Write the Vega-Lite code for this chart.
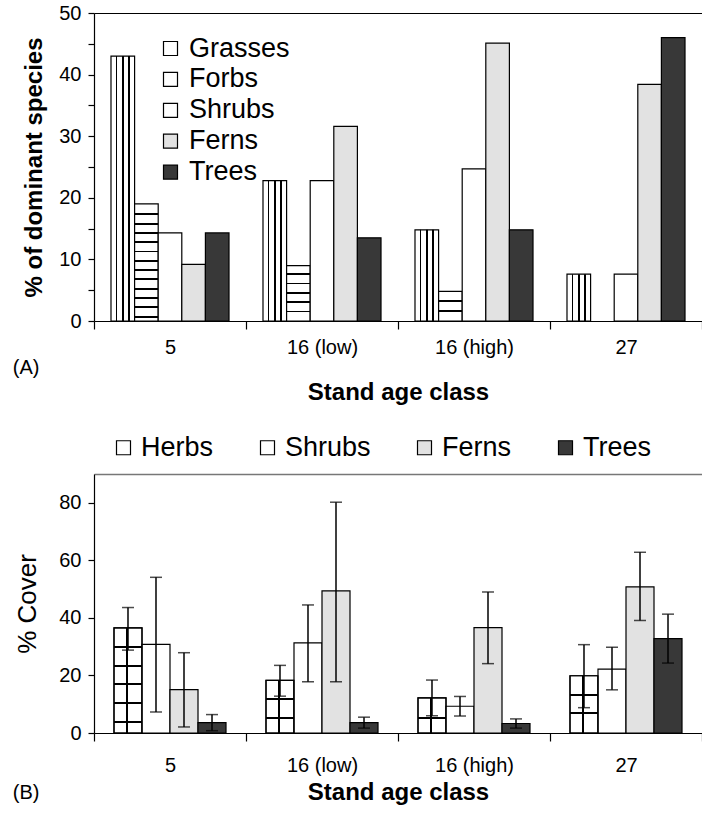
{
  "$schema": "https://vega.github.io/schema/vega-lite/v6.json",
  "padding": {"left": 12, "top": 3, "right": 0, "bottom": 5},
  "spacing": 30,
  "resolve": {"scale": {"fill": "independent", "xOffset": "independent", "x": "independent", "y": "independent"}, "legend": {"fill": "independent"}},
  "config": {
    "font": "Liberation Sans",
    "view": {"stroke": null},
    "axis": {"domainColor": "black", "tickColor": "black", "labelColor": "black", "titleColor": "black", "grid": false, "domainWidth": 1.2, "tickWidth": 1.2}
  },
  "vconcat": [
    {
      "width": 608,
      "height": 308,
      "title": {"text": "(A)", "orient": "bottom", "anchor": "start", "frame": "bounds", "fontSize": 20, "fontWeight": "normal", "dx": -10, "dy": -46, "offset": 0, "color": "black"},
      "data": {"values": [
        {"group": "5", "type": "Grasses", "value": 43.0},
        {"group": "5", "type": "Forbs", "value": 19.0},
        {"group": "5", "type": "Shrubs", "value": 14.3},
        {"group": "5", "type": "Ferns", "value": 9.2},
        {"group": "5", "type": "Trees", "value": 14.3},
        {"group": "16 (low)", "type": "Grasses", "value": 22.8},
        {"group": "16 (low)", "type": "Forbs", "value": 9.0},
        {"group": "16 (low)", "type": "Shrubs", "value": 22.8},
        {"group": "16 (low)", "type": "Ferns", "value": 31.6},
        {"group": "16 (low)", "type": "Trees", "value": 13.5},
        {"group": "16 (high)", "type": "Grasses", "value": 14.8},
        {"group": "16 (high)", "type": "Forbs", "value": 4.8},
        {"group": "16 (high)", "type": "Shrubs", "value": 24.7},
        {"group": "16 (high)", "type": "Ferns", "value": 45.1},
        {"group": "16 (high)", "type": "Trees", "value": 14.8},
        {"group": "27", "type": "Grasses", "value": 7.6},
        {"group": "27", "type": "Shrubs", "value": 7.6},
        {"group": "27", "type": "Ferns", "value": 38.4},
        {"group": "27", "type": "Trees", "value": 46.0}
      ]},
      "layer": [
        {
          "mark": {"type": "bar", "stroke": "black", "strokeWidth": 1.2},
          "encoding": {
            "x": {"field": "group", "type": "nominal", "sort": ["5", "16 (low)", "16 (high)", "27"], "scale": {"paddingInner": 0, "paddingOuter": 0},
              "axis": {"title": "Stand age class", "titleFontSize": 24, "titleFontWeight": "bold", "titlePadding": 23, "labelFontSize": 20, "labelAngle": 0, "labelPadding": 8, "tickBand": "extent", "tickSize": 8}},
            "xOffset": {"field": "type", "type": "nominal", "scale": {"domain": ["Grasses", "Forbs", "Shrubs", "Ferns", "Trees"], "paddingInner": 0, "paddingOuter": 0.72}},
            "y": {"field": "value", "type": "quantitative", "scale": {"domain": [0, 50], "nice": false},
              "axis": {"title": "% of dominant species", "titleFontSize": 24, "titleFontWeight": "bold", "titlePadding": 12, "values": [0, 5, 10, 15, 20, 25, 30, 35, 40, 45, 50], "labelExpr": "datum.value % 10 === 0 ? datum.label : ''", "labelFontSize": 20, "labelPadding": 7, "tickSize": 6}},
            "fill": {
              "field": "type", "type": "nominal",
              "scale": {"domain": ["Grasses", "Forbs", "Shrubs", "Ferns", "Trees"], "range": ["#ffffff", "#fefefe", "white", "#e2e2e2", "#383838"]},
              "legend": {"title": null, "orient": "none", "direction": "vertical", "legendX": 63, "legendY": 22, "symbolType": "square", "symbolSize": 196, "symbolStrokeColor": "black", "symbolStrokeWidth": 1, "labelFontSize": 27, "labelOffset": 5, "rowPadding": 2.9, "labelColor": "black",
                "encode": {"symbols": {"update": {
                  "stroke": {"value": "black"},
                  "strokeWidth": {"value": 1.2},
                  "fill": {"value": {"expr": "datum.value === 'Grasses' ? {gradient: 'linear', x1: 0, y1: 0, x2: 1, y2: 0, stops: [{offset: 0, color: 'white'}, {offset: 0.43, color: 'white'}, {offset: 0.43, color: 'black'}, {offset: 0.57, color: 'black'}, {offset: 0.57, color: 'white'}, {offset: 1, color: 'white'}]} : datum.value === 'Forbs' ? {gradient: 'linear', x1: 0, y1: 0, x2: 0, y2: 1, stops: [{offset: 0, color: 'white'}, {offset: 0.43, color: 'white'}, {offset: 0.43, color: 'black'}, {offset: 0.57, color: 'black'}, {offset: 0.57, color: 'white'}, {offset: 1, color: 'white'}]} : datum.value === 'Ferns' ? '#e2e2e2' : datum.value === 'Trees' ? '#383838' : 'white'"}}}}}},
              "condition": [
                {"test": "datum.type === 'Grasses'", "value": {"gradient": "linear", "x1": 0, "y1": 0, "x2": 1, "y2": 0, "stops": [
                  {"offset": 0, "color": "white"}, {"offset": 0.205, "color": "white"}, {"offset": 0.205, "color": "black"}, {"offset": 0.275, "color": "black"}, {"offset": 0.275, "color": "white"},
                  {"offset": 0.465, "color": "white"}, {"offset": 0.465, "color": "black"}, {"offset": 0.535, "color": "black"}, {"offset": 0.535, "color": "white"},
                  {"offset": 0.725, "color": "white"}, {"offset": 0.725, "color": "black"}, {"offset": 0.795, "color": "black"}, {"offset": 0.795, "color": "white"}, {"offset": 1, "color": "white"}]}},
                {"test": "datum.type === 'Forbs' && datum.group === '5'", "value": {"gradient": "linear", "x1": 0, "y1": 0, "x2": 0, "y2": 1, "stops": [
                  {"offset": 0, "color": "white"},
                  {"offset": 0.080, "color": "white"}, {"offset": 0.080, "color": "black"}, {"offset": 0.096, "color": "black"}, {"offset": 0.096, "color": "white"},
                  {"offset": 0.1595, "color": "white"}, {"offset": 0.1595, "color": "black"}, {"offset": 0.1755, "color": "black"}, {"offset": 0.1755, "color": "white"},
                  {"offset": 0.239, "color": "white"}, {"offset": 0.239, "color": "black"}, {"offset": 0.255, "color": "black"}, {"offset": 0.255, "color": "white"},
                  {"offset": 0.3185, "color": "white"}, {"offset": 0.3185, "color": "black"}, {"offset": 0.3345, "color": "black"}, {"offset": 0.3345, "color": "white"},
                  {"offset": 0.398, "color": "white"}, {"offset": 0.398, "color": "black"}, {"offset": 0.414, "color": "black"}, {"offset": 0.414, "color": "white"},
                  {"offset": 0.4775, "color": "white"}, {"offset": 0.4775, "color": "black"}, {"offset": 0.4935, "color": "black"}, {"offset": 0.4935, "color": "white"},
                  {"offset": 0.557, "color": "white"}, {"offset": 0.557, "color": "black"}, {"offset": 0.573, "color": "black"}, {"offset": 0.573, "color": "white"},
                  {"offset": 0.6364, "color": "white"}, {"offset": 0.6364, "color": "black"}, {"offset": 0.6524, "color": "black"}, {"offset": 0.6524, "color": "white"},
                  {"offset": 0.716, "color": "white"}, {"offset": 0.716, "color": "black"}, {"offset": 0.732, "color": "black"}, {"offset": 0.732, "color": "white"},
                  {"offset": 0.7954, "color": "white"}, {"offset": 0.7954, "color": "black"}, {"offset": 0.8114, "color": "black"}, {"offset": 0.8114, "color": "white"},
                  {"offset": 0.875, "color": "white"}, {"offset": 0.875, "color": "black"}, {"offset": 0.891, "color": "black"}, {"offset": 0.891, "color": "white"},
                  {"offset": 0.9544, "color": "white"}, {"offset": 0.9544, "color": "black"}, {"offset": 0.9704, "color": "black"}, {"offset": 0.9704, "color": "white"},
                  {"offset": 1, "color": "white"}]}},
                {"test": "datum.type === 'Forbs' && datum.group === '16 (low)'", "value": {"gradient": "linear", "x1": 0, "y1": 0, "x2": 0, "y2": 1, "stops": [
                  {"offset": 0, "color": "white"},
                  {"offset": 0.141, "color": "white"}, {"offset": 0.141, "color": "black"}, {"offset": 0.173, "color": "black"}, {"offset": 0.173, "color": "white"},
                  {"offset": 0.309, "color": "white"}, {"offset": 0.309, "color": "black"}, {"offset": 0.341, "color": "black"}, {"offset": 0.341, "color": "white"},
                  {"offset": 0.477, "color": "white"}, {"offset": 0.477, "color": "black"}, {"offset": 0.509, "color": "black"}, {"offset": 0.509, "color": "white"},
                  {"offset": 0.645, "color": "white"}, {"offset": 0.645, "color": "black"}, {"offset": 0.677, "color": "black"}, {"offset": 0.677, "color": "white"},
                  {"offset": 0.813, "color": "white"}, {"offset": 0.813, "color": "black"}, {"offset": 0.845, "color": "black"}, {"offset": 0.845, "color": "white"},
                  {"offset": 1, "color": "white"}]}},
                {"test": "datum.type === 'Forbs' && datum.group === '16 (high)'", "value": {"gradient": "linear", "x1": 0, "y1": 0, "x2": 0, "y2": 1, "stops": [
                  {"offset": 0, "color": "white"},
                  {"offset": 0.287, "color": "white"}, {"offset": 0.287, "color": "black"}, {"offset": 0.349, "color": "black"}, {"offset": 0.349, "color": "white"},
                  {"offset": 0.629, "color": "white"}, {"offset": 0.629, "color": "black"}, {"offset": 0.691, "color": "black"}, {"offset": 0.691, "color": "white"},
                  {"offset": 1, "color": "white"}]}}
              ]
            }
          }
        },
        {
          "mark": {"type": "rule", "opacity": 0},
          "encoding": {
            "x": {"field": "group", "type": "nominal", "sort": ["5", "16 (low)", "16 (high)", "27"],
              "axis": {"orient": "top", "labels": false, "ticks": false, "title": null, "domainColor": "black", "domainWidth": 1.2}}
          }
        }
      ],
      "resolve": {"axis": {"x": "independent"}}
    },
    {
      "width": 608,
      "height": 259,
      "title": {"text": "(B)", "orient": "bottom", "anchor": "start", "frame": "bounds", "fontSize": 20, "fontWeight": "normal", "dx": -2, "dy": -21, "offset": 0, "color": "black"},
      "data": {"values": [
        {"group": "5", "type": "Herbs", "value": 36.5, "lo": 28.8, "hi": 43.6},
        {"group": "5", "type": "Shrubs", "value": 30.8, "lo": 7.3, "hi": 54.1},
        {"group": "5", "type": "Ferns", "value": 15.1, "lo": 2.1, "hi": 27.9},
        {"group": "5", "type": "Trees", "value": 3.6, "lo": 0.8, "hi": 6.4},
        {"group": "16 (low)", "type": "Herbs", "value": 18.3, "lo": 12.8, "hi": 23.5},
        {"group": "16 (low)", "type": "Shrubs", "value": 31.3, "lo": 17.8, "hi": 44.5},
        {"group": "16 (low)", "type": "Ferns", "value": 49.4, "lo": 17.8, "hi": 80.2},
        {"group": "16 (low)", "type": "Trees", "value": 3.6, "lo": 1.7, "hi": 5.5},
        {"group": "16 (high)", "type": "Herbs", "value": 12.2, "lo": 6.0, "hi": 18.4},
        {"group": "16 (high)", "type": "Shrubs", "value": 9.3, "lo": 5.9, "hi": 12.7},
        {"group": "16 (high)", "type": "Ferns", "value": 36.6, "lo": 24.1, "hi": 49.0},
        {"group": "16 (high)", "type": "Trees", "value": 3.3, "lo": 1.7, "hi": 4.9},
        {"group": "27", "type": "Herbs", "value": 19.9, "lo": 8.8, "hi": 30.7},
        {"group": "27", "type": "Shrubs", "value": 22.2, "lo": 15.0, "hi": 29.8},
        {"group": "27", "type": "Ferns", "value": 50.8, "lo": 39.1, "hi": 62.8},
        {"group": "27", "type": "Trees", "value": 32.8, "lo": 24.3, "hi": 41.3}
      ]},
      "layer": [
        {
          "mark": {"type": "bar", "stroke": "black", "strokeWidth": 1.2},
          "encoding": {
            "x": {"field": "group", "type": "nominal", "sort": ["5", "16 (low)", "16 (high)", "27"], "scale": {"paddingInner": 0, "paddingOuter": 0},
              "axis": {"title": "Stand age class", "titleFontSize": 24, "titleFontWeight": "bold", "titlePadding": 5, "labelFontSize": 20, "labelAngle": 0, "labelPadding": 14, "tickBand": "extent", "tickSize": 8}},
            "xOffset": {"field": "type", "type": "nominal", "scale": {"domain": ["Herbs", "Shrubs", "Ferns", "Trees"], "paddingInner": 0, "paddingOuter": 0.714}},
            "y": {"field": "value", "type": "quantitative", "scale": {"domain": [0, 90], "nice": false},
              "axis": {"title": "% Cover", "titleFontSize": 26, "titleFontWeight": "normal", "titlePadding": 18, "values": [0, 10, 20, 30, 40, 50, 60, 70, 80, 90], "labelExpr": "datum.value % 20 === 0 ? datum.label : ''", "labelFontSize": 20, "labelPadding": 7, "tickSize": 6}},
            "fill": {
              "field": "type", "type": "nominal",
              "scale": {"domain": ["Herbs", "Shrubs", "Ferns", "Trees"], "range": ["#fefefe", "white", "#e2e2e2", "#383838"]},
              "legend": {"title": null, "orient": "none", "direction": "horizontal", "columns": 4, "columnPadding": 40, "legendX": 16, "legendY": -40, "symbolType": "square", "symbolSize": 196, "symbolStrokeColor": "black", "symbolStrokeWidth": 1, "labelFontSize": 27, "labelOffset": 4, "labelColor": "black",
                "encode": {"symbols": {"update": {
                  "stroke": {"value": "black"},
                  "strokeWidth": {"value": 1.2},
                  "fill": {"value": {"expr": "datum.value === 'Herbs' ? {gradient: 'linear', x1: 0, y1: 0, x2: 0, y2: 1, stops: [{offset: 0, color: 'black'}, {offset: 0.2, color: 'black'}, {offset: 0.2, color: 'white'}, {offset: 1, color: 'white'}]} : datum.value === 'Trees' ? {gradient: 'linear', x1: 0, y1: 0, x2: 0, y2: 1, stops: [{offset: 0, color: 'black'}, {offset: 0.38, color: 'black'}, {offset: 0.38, color: 'white'}, {offset: 0.62, color: 'white'}, {offset: 0.62, color: 'black'}, {offset: 1, color: 'black'}]} : datum.value === 'Ferns' ? '#e2e2e2' : 'white'"}}}}}},
              "condition": [
                {"test": "datum.type === 'Herbs'", "value": {"gradient": "linear", "x1": 0, "y1": 0, "x2": 1, "y2": 0, "stops": [
                  {"offset": 0, "color": "white"}, {"offset": 0.415, "color": "white"}, {"offset": 0.415, "color": "black"}, {"offset": 0.485, "color": "black"}, {"offset": 0.485, "color": "white"}, {"offset": 1, "color": "white"}]}}
              ]
            }
          }
        },
        {
          "transform": [{"filter": "datum.type === 'Herbs'"}],
          "mark": {"type": "bar", "stroke": "black", "strokeWidth": 1.2},
          "encoding": {
            "x": {"field": "group", "type": "nominal", "sort": ["5", "16 (low)", "16 (high)", "27"], "axis": null},
            "xOffset": {"field": "type", "type": "nominal", "scale": {"domain": ["Herbs", "Shrubs", "Ferns", "Trees"], "paddingInner": 0, "paddingOuter": 0.714}},
            "y": {"field": "value", "type": "quantitative", "scale": {"domain": [0, 90], "nice": false}, "title": "% Cover"},
            "fill": {
              "value": "transparent",
              "condition": [
                {"test": "datum.group === '5'", "value": {"gradient": "linear", "x1": 0, "y1": 0, "x2": 0, "y2": 1, "stops": [
                  {"offset": 0, "color": "rgba(0,0,0,0)"},
                  {"offset": 0.1715, "color": "rgba(0,0,0,0)"}, {"offset": 0.1715, "color": "black"}, {"offset": 0.1905, "color": "black"}, {"offset": 0.1905, "color": "rgba(0,0,0,0)"},
                  {"offset": 0.3505, "color": "rgba(0,0,0,0)"}, {"offset": 0.3505, "color": "black"}, {"offset": 0.3695, "color": "black"}, {"offset": 0.3695, "color": "rgba(0,0,0,0)"},
                  {"offset": 0.5285, "color": "rgba(0,0,0,0)"}, {"offset": 0.5285, "color": "black"}, {"offset": 0.5475, "color": "black"}, {"offset": 0.5475, "color": "rgba(0,0,0,0)"},
                  {"offset": 0.7065, "color": "rgba(0,0,0,0)"}, {"offset": 0.7065, "color": "black"}, {"offset": 0.7255, "color": "black"}, {"offset": 0.7255, "color": "rgba(0,0,0,0)"},
                  {"offset": 0.8845, "color": "rgba(0,0,0,0)"}, {"offset": 0.8845, "color": "black"}, {"offset": 0.9035, "color": "black"}, {"offset": 0.9035, "color": "rgba(0,0,0,0)"},
                  {"offset": 1, "color": "rgba(0,0,0,0)"}]}},
                {"test": "datum.group === '16 (low)'", "value": {"gradient": "linear", "x1": 0, "y1": 0, "x2": 0, "y2": 1, "stops": [
                  {"offset": 0, "color": "rgba(0,0,0,0)"},
                  {"offset": 0.341, "color": "rgba(0,0,0,0)"}, {"offset": 0.341, "color": "black"}, {"offset": 0.379, "color": "black"}, {"offset": 0.379, "color": "rgba(0,0,0,0)"},
                  {"offset": 0.689, "color": "rgba(0,0,0,0)"}, {"offset": 0.689, "color": "black"}, {"offset": 0.727, "color": "black"}, {"offset": 0.727, "color": "rgba(0,0,0,0)"},
                  {"offset": 1, "color": "rgba(0,0,0,0)"}]}},
                {"test": "datum.group === '16 (high)'", "value": {"gradient": "linear", "x1": 0, "y1": 0, "x2": 0, "y2": 1, "stops": [
                  {"offset": 0, "color": "rgba(0,0,0,0)"},
                  {"offset": 0.542, "color": "rgba(0,0,0,0)"}, {"offset": 0.542, "color": "black"}, {"offset": 0.598, "color": "black"}, {"offset": 0.598, "color": "rgba(0,0,0,0)"},
                  {"offset": 1, "color": "rgba(0,0,0,0)"}]}},
                {"test": "datum.group === '27'", "value": {"gradient": "linear", "x1": 0, "y1": 0, "x2": 0, "y2": 1, "stops": [
                  {"offset": 0, "color": "rgba(0,0,0,0)"},
                  {"offset": 0.3265, "color": "rgba(0,0,0,0)"}, {"offset": 0.3265, "color": "black"}, {"offset": 0.3615, "color": "black"}, {"offset": 0.3615, "color": "rgba(0,0,0,0)"},
                  {"offset": 0.6405, "color": "rgba(0,0,0,0)"}, {"offset": 0.6405, "color": "black"}, {"offset": 0.6755, "color": "black"}, {"offset": 0.6755, "color": "rgba(0,0,0,0)"},
                  {"offset": 1, "color": "rgba(0,0,0,0)"}]}}
              ]
            }
          }
        },
        {
          "mark": {"type": "rule", "color": "black", "strokeWidth": 1.5},
          "encoding": {
            "x": {"field": "group", "type": "nominal", "sort": ["5", "16 (low)", "16 (high)", "27"], "axis": null},
            "xOffset": {"field": "type", "type": "nominal", "scale": {"domain": ["Herbs", "Shrubs", "Ferns", "Trees"], "paddingInner": 0, "paddingOuter": 0.714}},
            "y": {"field": "lo", "type": "quantitative", "scale": {"domain": [0, 90], "nice": false}, "title": "% Cover"},
            "y2": {"field": "hi"}
          }
        },
        {
          "mark": {"type": "tick", "color": "black", "size": 12, "thickness": 1.5, "orient": "horizontal"},
          "encoding": {
            "x": {"field": "group", "type": "nominal", "sort": ["5", "16 (low)", "16 (high)", "27"], "axis": null},
            "xOffset": {"field": "type", "type": "nominal", "scale": {"domain": ["Herbs", "Shrubs", "Ferns", "Trees"], "paddingInner": 0, "paddingOuter": 0.714}},
            "y": {"field": "hi", "type": "quantitative", "scale": {"domain": [0, 90], "nice": false}, "title": "% Cover"}
          }
        },
        {
          "mark": {"type": "tick", "color": "black", "size": 12, "thickness": 1.5, "orient": "horizontal"},
          "encoding": {
            "x": {"field": "group", "type": "nominal", "sort": ["5", "16 (low)", "16 (high)", "27"], "axis": null},
            "xOffset": {"field": "type", "type": "nominal", "scale": {"domain": ["Herbs", "Shrubs", "Ferns", "Trees"], "paddingInner": 0, "paddingOuter": 0.714}},
            "y": {"field": "lo", "type": "quantitative", "scale": {"domain": [0, 90], "nice": false}, "title": "% Cover"}
          }
        },
        {
          "mark": {"type": "rule", "opacity": 0},
          "encoding": {
            "x": {"field": "group", "type": "nominal", "sort": ["5", "16 (low)", "16 (high)", "27"],
              "axis": {"orient": "top", "labels": false, "ticks": false, "title": null, "domainColor": "#777777", "domainWidth": 1.5}}
          }
        }
      ],
      "resolve": {"axis": {"x": "independent"}}
    }
  ]
}
